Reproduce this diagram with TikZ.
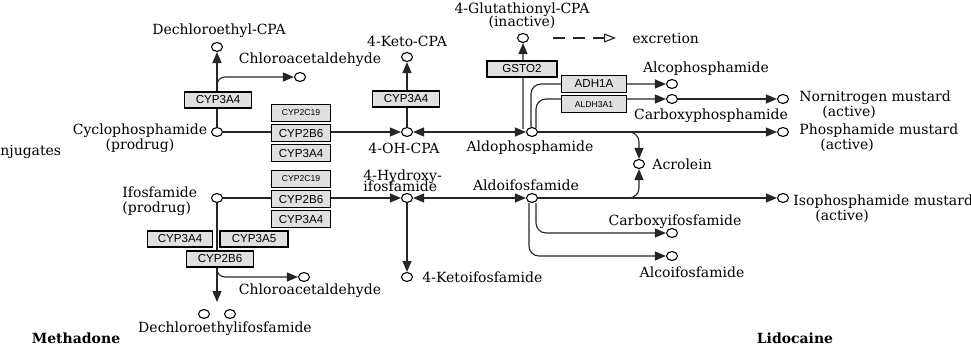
\documentclass[tikz,border=0pt]{standalone}
\usepackage{fontspec}
\setmainfont{DejaVu Serif}
\setsansfont{Liberation Sans}
\usepackage{tikz}
\usetikzlibrary{shapes.geometric, arrows.meta, positioning, calc}
\tikzstyle{cpd} = [ellipse, draw=black, line width=0.55pt, fill=white, minimum width=5.5pt, minimum height=4.5pt, inner sep=0pt]
\tikzstyle{enzyme} = [rectangle, draw=black, fill=black!12, line width=0.55pt, minimum width=33.5pt, minimum height=8pt, inner sep=0pt, font=\sffamily\fontsize{5.8}{6}\selectfont]
\tikzstyle{enzsmall} = [font=\sffamily\fontsize{4.3}{5}\selectfont]
\tikzstyle{cname} = [inner sep=0pt, font=\fontsize{7}{7.5}\selectfont, align=center]
\tikzstyle{link} = [line width=0.55pt, draw=black!85]
\tikzstyle{arrow} = [link, -{Triangle[length=5.5pt, width=4.5pt]}]
\tikzstyle{darrow} = [link, {Triangle[length=5.5pt, width=4.5pt]}-{Triangle[length=5.5pt, width=4.5pt]}]

\begin{document}
\begin{tikzpicture}[x=0.5pt, y=-0.5pt]
\useasboundingbox (0,0) rectangle (971,347);

% compounds: cyclophosphamide route
\node (dcpa) [cpd] at (217,47) {};
\node (cla1) [cpd] at (300,77) {};
\node (cpa) [cpd] at (217,132) {};
\node (ohcpa) [cpd] at (407,132) {};
\node (kcpa) [cpd] at (407,57) {};
\node (aldo) [cpd] at (532,132) {};
\node (gcpa) [cpd] at (523,38) {};
\node (alco) [cpd] at (672,84) {};
\node (carb) [cpd] at (672,99) {};
\node (nnm) [cpd] at (783,99) {};
\node (pm) [cpd] at (783,132) {};
\node (acro) [cpd] at (639,164) {};

% compounds: ifosfamide route
\node (ifo) [cpd] at (217,198) {};
\node (ohifo) [cpd] at (407,198) {};
\node (aldoi) [cpd] at (532,198) {};
\node (kifo) [cpd] at (407,277) {};
\node (ipm) [cpd] at (783,198) {};
\node (carbi) [cpd] at (672,233) {};
\node (alcoi) [cpd] at (672,256) {};
\node (cla2) [cpd] at (304,277) {};
\node (dcifo1) [cpd] at (204,314) {};
\node (dcifo2) [cpd] at (230,314) {};

% reactions
\draw [arrow] (cpa) -- (dcpa);
\coordinate (br1) at (217,86);
\draw [arrow, rounded corners=4pt] (br1) |- (cla1);
\draw [arrow] (cpa) -- (ohcpa);
\draw [arrow] (ohcpa) -- (kcpa);
\draw [darrow] (ohcpa) -- (aldo);
\draw [arrow] ($(aldo.west)+(-3,-3)$) -- (gcpa);
\draw [arrow, rounded corners=5pt] ($(aldo.north)+(-1,0)$) |- (alco);
\draw [arrow, rounded corners=5pt] ($(aldo.north)+(4,1)$) |- (carb);
\draw [arrow] (carb) -- (nnm);
\draw [arrow] (aldo) -- (pm);
\coordinate (br2) at (626,132);
\draw [arrow, rounded corners=5pt] (br2) -| (acro);

\draw [arrow] (ifo) -- (ohifo);
\draw [darrow] (ohifo) -- (aldoi);
\draw [arrow] (ohifo) -- (kifo);
\draw [arrow] (aldoi) -- (ipm);
\coordinate (br3) at (626,198);
\draw [arrow, rounded corners=5pt] (br3) -| (acro);
\draw [arrow, rounded corners=5pt] ($(aldoi.south)+(4,0)$) |- (carbi);
\draw [arrow, rounded corners=5pt] ($(aldoi.south)+(-3,0)$) |- (alcoi);
\coordinate (dn) at (217,302);
\draw [arrow] (ifo) -- (dn);
\coordinate (br4) at (217,270);
\draw [arrow, rounded corners=4pt] (br4) |- (cla2);

% enzymes
\node (e1) [enzyme] at (218,100) {CYP3A4};
\node (s1a) [enzyme, enzsmall, minimum width=29.5pt, minimum height=8.5pt] at (301,113) {CYP2C19};
\node (s1b) [enzyme, minimum width=29.5pt, minimum height=8.5pt, below=1pt of s1a] {CYP2B6};
\node (s1c) [enzyme, minimum width=29.5pt, minimum height=8.5pt, below=1pt of s1b] {CYP3A4};
\node (e2) [enzyme] at (406,99) {CYP3A4};
\node (e3) [enzyme, minimum width=35pt] at (522,69) {GSTO2};
\node (e4) [enzyme, minimum width=32.5pt, minimum height=8.5pt] at (594,84) {ADH1A};
\node (e5) [enzyme, enzsmall, minimum width=32.5pt, minimum height=8.5pt, below=1pt of e4] {ALDH3A1};
\node (s2a) [enzyme, enzsmall, minimum width=29.5pt, minimum height=8.5pt] at (301,179) {CYP2C19};
\node (s2b) [enzyme, minimum width=29.5pt, minimum height=8.5pt, below=1pt of s2a] {CYP2B6};
\node (s2c) [enzyme, minimum width=29.5pt, minimum height=8.5pt, below=1pt of s2b] {CYP3A4};
\node (e6) [enzyme, minimum width=32.5pt] at (180,239) {CYP3A4};
\node (e7) [enzyme, minimum width=34pt] at (254,239) {CYP3A5};
\node (e8) [enzyme] at (220,259) {CYP2B6};

% excretion
\node (excr) [cname, anchor=west] at (632,38) {excretion};
\draw [link, dash pattern=on 6pt off 4pt, -{Triangle[open, length=6pt, width=4.5pt]}, shorten <=12pt, shorten >=8pt] (gcpa) -- (excr);

% labels
\node (tdcpa) [cname] at (219,31) {Dechloroethyl-CPA};
\node (tcla1) [cname] at (310,60) {Chloroacetaldehyde};
\node (tcpa) [cname] at (140,138) {Cyclophosphamide\\(prodrug)};
\node (tconj) [cname, anchor=west] at (0,152) {njugates};
\node (tkcpa) [cname] at (407,41) {4-Keto-CPA};
\node (tohcpa) [cname] at (404,148) {4-OH-CPA};
\node (taldo) [cname] at (530,148) {Aldophosphamide};
\node (tgcpa) [cname] at (522,16) {4-Glutathionyl-CPA\\[-1pt](inactive)};
\node (talco) [cname] at (706,69) {Alcophosphamide};
\node (tcarb) [cname] at (711,116) {Carboxyphosphamide};
\node (tnnm) [cname, align=left, anchor=west] at (799,105) {Nornitrogen mustard\\\hspace*{11.5pt}(active)};
\node (tpm) [cname, align=left, anchor=west] at (799,138) {Phosphamide mustard\\\hspace*{10.5pt}(active)};
\node (tacro) [cname, right=3.5pt of acro] {Acrolein};
\node (tifo) [cname, align=left, anchor=west] at (122,201) {Ifosfamide\\(prodrug)};
\node (tohifo) [cname, align=left, anchor=west] at (363,181) {4-Hydroxy-\\[-2pt]ifosfamide};
\node (taldoi) [cname] at (526,185) {Aldoifosfamide};
\node (tkifo) [cname, right=4.5pt of kifo] {4-Ketoifosfamide};
\node (tipm) [cname, align=left, anchor=west] at (793,209) {Isophosphamide mustard\\\hspace*{11pt}(active)};
\node (tcarbi) [cname] at (675,222) {Carboxyifosfamide};
\node (talcoi) [cname] at (692,272) {Alcoifosfamide};
\node (tcla2) [cname] at (310,291) {Chloroacetaldehyde};
\node (tdcifo) [cname] at (225,329) {Dechloroethylifosfamide};
\node (tmeth) [cname, font=\fontsize{7}{7.5}\selectfont\bfseries] at (76,338) {Methadone};
\node (tlido) [cname, font=\fontsize{7}{7.5}\selectfont\bfseries] at (795,338) {Lidocaine};
\end{tikzpicture}
\end{document}
